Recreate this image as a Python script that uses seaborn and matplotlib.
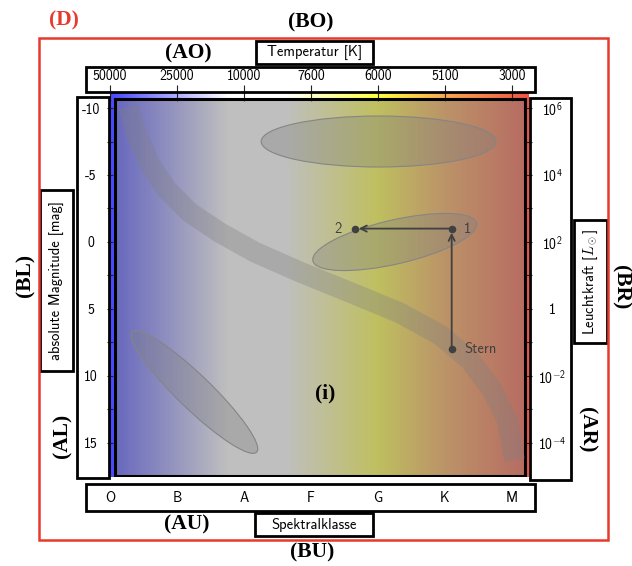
import numpy as np
import matplotlib
matplotlib.use("Agg")
import matplotlib.pyplot as plt
import seaborn as sns
from matplotlib.colors import LinearSegmentedColormap
from matplotlib.patches import Rectangle, Ellipse
from matplotlib.transforms import ScaledTranslation

# spectral classes along x (positions 0..6) and the temperatures of the top axis
spectral_classes = ["O", "B", "A", "F", "G", "K", "M"]
temperatures = ["50000", "25000", "10000", "7600", "6000", "5100", "3000"]

# absolute magnitude (left axis) and luminosity exponents (right axis)
mag_ticks = [-10, -5, 0, 5, 10, 15]
mag_minor = [-7.5, -2.5, 2.5, 7.5, 12.5]
lum_exponents = [6, 4, 2, 0, -2, -4]
lum_minor = [5, 3, 1, -1, -3]

# centre line of the main sequence band
ms_class = [0.28, 0.40, 0.60, 0.85, 1.19, 1.64, 2.16, 2.84, 3.58, 4.33, 4.93, 5.37, 5.70, 5.93, 6.04]
ms_mag = [-10.1, -8.0, -5.75, -3.9, -2.2, -0.7, 0.75, 2.25, 3.75, 5.3, 6.95, 8.8, 11.0, 13.3, 16.3]

# shaded regions (supergiants, giants, white dwarfs): centre, size in px, tilt
region_class = [4.01, 4.25, 1.26]
region_mag = [-7.5, 0.0, 11.2]
region_w = [235, 168, 173]
region_h = [51, 44, 34]
region_angle = [0, 13, -44]

# evolution track of the star
track_class = [5.1, 5.1, 3.65]
track_mag = [8.0, -1.0, -1.0]
track_labels = ["Stern", "1", "2"]
label_side = [1, 1, -1]

W, H = 632, 566
XLIM = (0, 6.254)
YLIM = (17.54, -11.12)
TRACK = "#404040"
RED = "#e8392d"


def px_rect(x0, y0, x1, y1):
    return [x0 / W, 1 - y1 / H, (x1 - x0) / W, (y1 - y0) / H]


def main():
    sns.set_theme(style="ticks")
    plt.rcParams["font.family"] = ["cmss10", "DejaVu Sans"]
    plt.rcParams["axes.unicode_minus"] = False
    plt.rcParams["mathtext.fontset"] = "custom"
    plt.rcParams["mathtext.rm"] = "cmss10"
    plt.rcParams["text.color"] = "black"
    plt.rcParams["xtick.color"] = "black"
    plt.rcParams["ytick.color"] = "black"
    plt.rcParams["axes.labelcolor"] = "black"

    fig = plt.figure(figsize=(W / 100, H / 100), dpi=100)
    fig.patch.set_facecolor("white")

    def box(x0, y0, x1, y1, color="black", lw=2.0):
        r = px_rect(x0, y0, x1, y1)
        fig.add_artist(Rectangle((r[0], r[1]), r[2], r[3], transform=fig.transFigure,
                                 fill=False, ec=color, lw=lw, zorder=5))

    def ftext(x, y, s, **kw):
        kw.setdefault("color", "black")
        fig.text(x / W, 1 - y / H, s, ha="center", va="center", **kw)

    ax = fig.add_axes(px_rect(110, 93, 529, 477))
    ax.set_facecolor("none")
    for sp in ax.spines.values():
        sp.set_visible(False)

    # bright temperature gradient + grey veil inside the black frame
    hr_cmap = LinearSegmentedColormap.from_list("hr", [
        (0.0, "#4848ff"), (0.28, "#ffffff"), (0.42, "#ffffff"),
        (0.64, "#ffff40"), (0.8, "#f8a850"), (1.0, "#f05545")])
    grad = np.linspace(0, 1, 512)[None, :]
    ax.imshow(grad, cmap=hr_cmap, aspect="auto",
              extent=(XLIM[0], XLIM[1], YLIM[0], YLIM[1]), zorder=0)
    ax.add_patch(Rectangle((0.011, 0.002), 0.979, 0.982, transform=ax.transAxes,
                           fc=(0.5, 0.5, 0.5, 0.5), ec="black", lw=2.2, zorder=1))

    # main sequence band
    sns.lineplot(x=ms_class, y=ms_mag, sort=False, estimator=None, ax=ax,
                 color="#808080", alpha=0.35, linewidth=15, solid_capstyle="butt", zorder=2)

    # giant / supergiant / white dwarf regions
    for cx, cy, w, h, ang in zip(region_class, region_mag, region_w, region_h, region_angle):
        trans = fig.dpi_scale_trans + ScaledTranslation(cx, cy, ax.transData)
        ax.add_patch(Ellipse((0, 0), w / 100, h / 100, angle=ang, transform=trans,
                             fc=(0.5, 0.5, 0.5, 0.35), ec="#858585", lw=0.8, zorder=2))

    # evolution track
    for i in range(len(track_class) - 1):
        ax.annotate("", xy=(track_class[i + 1], track_mag[i + 1]),
                    xytext=(track_class[i], track_mag[i]),
                    arrowprops=dict(arrowstyle="->", color=TRACK, lw=1.3,
                                    shrinkA=0, shrinkB=3, mutation_scale=11), zorder=3)
    sns.scatterplot(x=track_class, y=track_mag, s=30, color=TRACK, linewidth=0,
                    ax=ax, zorder=4, legend=False)
    for cx, cy, lab, side in zip(track_class, track_mag, track_labels, label_side):
        ax.annotate(lab, (cx, cy), xytext=(9 * side, 0), textcoords="offset points",
                    ha="left" if side > 0 else "right", va="center",
                    fontsize=10.5, color=TRACK, zorder=5)

    bold = dict(fontsize=15.5, fontfamily="Liberation Serif", fontweight="bold")
    ax.text(0.513, 0.217, "(i)", transform=ax.transAxes, ha="center", va="center",
            color="black", **bold)

    # bottom: spectral classes, left: magnitude
    ax.set_xticks(range(len(spectral_classes)), labels=spectral_classes)
    ax.tick_params(axis="x", bottom=True, length=0, pad=10, labelsize=10,
                   labelcolor="black")
    ax.set_yticks(mag_ticks, labels=[str(m) for m in mag_ticks])
    ax.set_yticks(mag_minor, minor=True)
    ax.tick_params(axis="y", which="both", left=True, direction="inout", length=5,
                   width=0.8, color="#222222", pad=11.5, labelsize=10, labelcolor="black")
    for t in ax.get_yticklabels():
        t.set_horizontalalignment("center")

    # top: temperature
    top = ax.secondary_xaxis("top")
    top.set_xticks(range(len(temperatures)), labels=temperatures)
    top.tick_params(direction="inout", length=11, width=0.8, color="#222222",
                    pad=2, labelsize=10, labelcolor="black")
    top.spines["top"].set_visible(False)

    # right: luminosity
    right = ax.secondary_yaxis("right", functions=(lambda m: 2 - 0.4 * m,
                                                   lambda l: (2 - l) / 0.4))
    right.set_yticks(lum_exponents,
                     labels=["1" if e == 0 else f"$10^{{{e}}}$" for e in lum_exponents])
    right.set_yticks(lum_minor, minor=True)
    right.tick_params(which="both", direction="inout", length=5, width=0.8,
                      color="#222222", pad=14, labelsize=10, labelcolor="black")
    right.spines["right"].set_visible(False)
    for t in right.get_yticklabels():
        t.set_horizontalalignment("center")

    ax.set_xlim(*XLIM)
    ax.set_ylim(*YLIM)
    ax.set_xlabel("")
    ax.set_ylabel("")

    # tick label boxes and axis label boxes
    box(86, 67, 535, 92)
    box(86, 484, 535, 511)
    box(77, 97, 109, 478)
    box(530, 98, 571, 480)
    box(256, 41, 373, 64)
    box(255, 513, 373, 536)
    box(40, 190, 73, 371)
    box(574, 220, 607, 343)
    box(39, 38, 608, 540, color=RED, lw=1.8)

    ftext(314.5, 52.5, "Temperatur [K]", fontsize=10.5)
    ftext(314, 524.5, "Spektralklasse", fontsize=10.5)
    ftext(56.5, 280.5, "absolute Magnitude [mag]", fontsize=10.5, rotation=90)
    ftext(590.5, 281.5, r"Leuchtkraft [$L_\odot$]", fontsize=10.5, rotation=90,
          math_fontfamily="cm")

    ftext(64, 20, "(D)", color=RED, **bold)
    ftext(311, 22, "(BO)", **bold)
    ftext(188, 53, "(AO)", **bold)
    ftext(187, 524, "(AU)", **bold)
    ftext(312, 552, "(BU)", **bold)
    ftext(25, 275, "(BL)", rotation=90, **bold)
    ftext(62, 436, "(AL)", rotation=90, **bold)
    ftext(621, 287, "(BR)", rotation=270, **bold)
    ftext(587, 430, "(AR)", rotation=270, **bold)

    fig.savefig("out.png", dpi=100)
    plt.close(fig)


if __name__ == "__main__":
    main()
